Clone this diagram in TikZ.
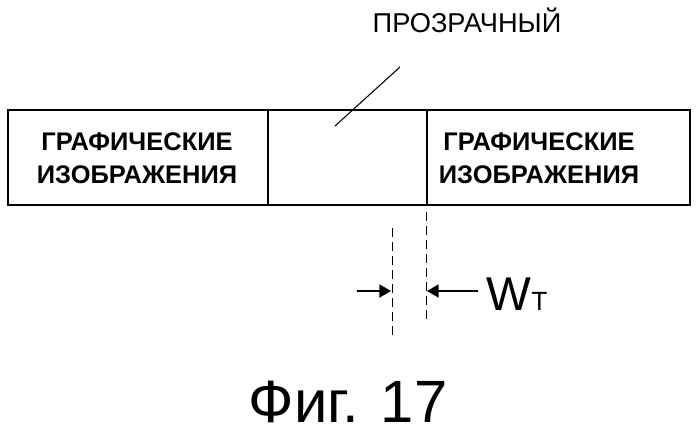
\documentclass[tikz,border=0pt]{standalone}
\usepackage{fontspec}
\setmainfont{Liberation Sans}
\usetikzlibrary{arrows}
\tikzset{
  label_txt/.style = {align=center, inner sep=0pt, font=\fontsize{14.5}{19}\selectfont\bfseries},
  dim_line/.style = {thin, dashed, dash pattern=on 5pt off 3pt},
  dim_arrow/.style = {->, >=triangle 60, thick},
}
\begin{document}
\begin{tikzpicture}[x=0.02cm,y=-0.02cm,thick]
  \useasboundingbox (0,0) rectangle (698,436);

  % frame
  \draw (8,110) rectangle (690,205);
  \draw (268,110) -- (268,205);
  \draw (427,110) -- (427,205);

  \node[label_txt] (gl) at (137,158) {ГРАФИЧЕСКИЕ\\ИЗОБРАЖЕНИЯ};
  \node[label_txt] (gr) at (539,158) {ГРАФИЧЕСКИЕ\\ИЗОБРАЖЕНИЯ};
  \node[inner sep=0pt, font=\fontsize{15.5}{19}\selectfont] (tr) at (467,20) {ПРОЗРАЧНЫЙ};
  \coordinate (lead) at (335,126);
  \draw[semithick] (400,67) -- (lead);

  % width marks
  \coordinate (d1t) at (392,228);
  \coordinate (d1b) at (392,336);
  \coordinate (d2t) at (426,212);
  \coordinate (d2b) at (426,324);
  \draw[dim_line] (d1t) -- (d1b);
  \draw[dim_line] (d2t) -- (d2b);
  \coordinate (a1) at (357,291);
  \coordinate (a1e) at (391,291);
  \coordinate (a2) at (478,291);
  \coordinate (a2e) at (427,291);
  \draw[dim_arrow] (a1) -- (a1e);
  \draw[dim_arrow] (a2) -- (a2e);
  \node[anchor=west, inner sep=0pt, font=\fontsize{27}{27}\selectfont] (wt) at (486,294)
    {W\raisebox{0pt}{\fontsize{15}{15}\selectfont T}};

  \node[inner sep=0pt, font=\fontsize{34}{34}\selectfont] (fig) at (348,402) {Фиг. 17};
\end{tikzpicture}
\end{document}
